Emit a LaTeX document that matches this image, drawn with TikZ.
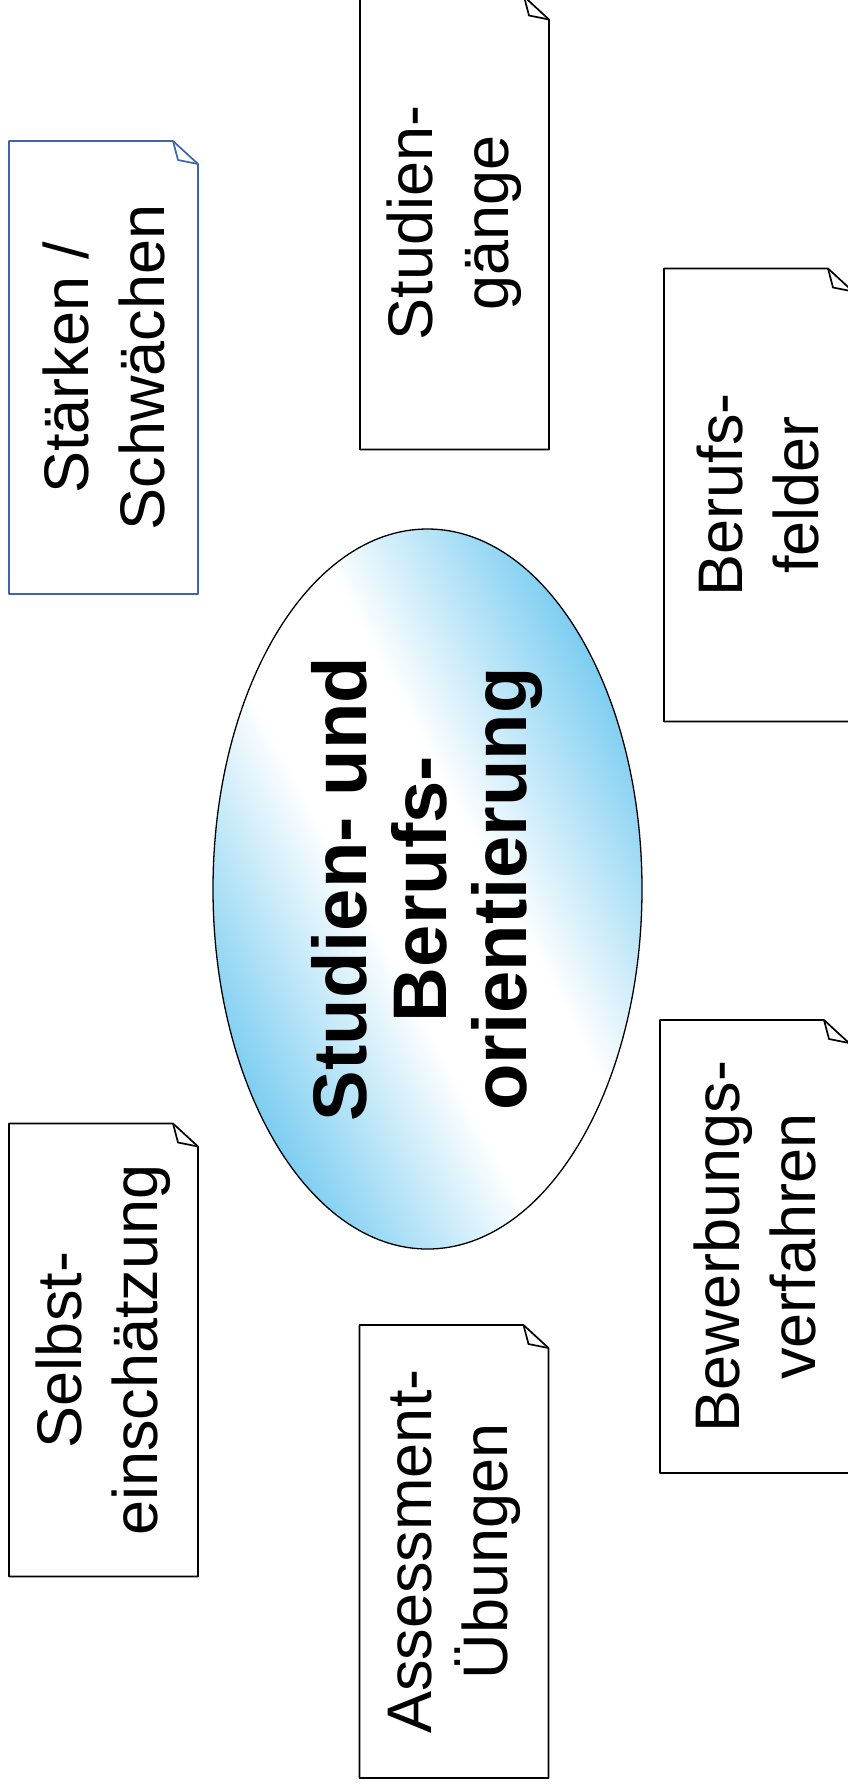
\documentclass[tikz,border=0pt]{standalone}
\usepackage{fontspec}
\setmainfont{Liberation Sans}
\usetikzlibrary{calc,shapes.geometric}

\definecolor{noteblue}{RGB}{62,100,170}
\definecolor{skyblue}{RGB}{110,200,240}

\pgfdeclareverticalshading{hubshade}{100bp}{color(0bp)=(skyblue);
  color(24bp)=(skyblue); color(44bp)=(white); color(56bp)=(white);
  color(76bp)=(skyblue); color(100bp)=(skyblue)}

% folded note round a named node: \notepaper[colour]{name}
\newcommand{\notepaper}[2][black]{%
  \draw[#1, line width=1.7pt, line join=round]
    ($(#2.center)+(-94.5,-226.5)$) -- ($(#2.center)+(69.5,-226.5)$)
    -- ($(#2.center)+(94.5,-203.5)$) -- ($(#2.center)+(94.5,226.5)$)
    -- ($(#2.center)+(-94.5,226.5)$) -- cycle;
  \draw[#1, line width=1.7pt, line join=round]
    ($(#2.center)+(69.5,-226.5)$) -- ($(#2.center)+(74.5,-207.5)$)
    -- ($(#2.center)+(94.5,-203.5)$);
}

\begin{document}
\begin{tikzpicture}[x=1pt, y=-1pt,
    notetext/.style={rotate=90, align=center, inner sep=0pt,
      font=\fontsize{63}{76}\selectfont},
    hub/.style={ellipse, draw, line width=1.3pt, rotate=90, inner sep=0pt,
      minimum width=720pt, minimum height=429pt,
      shading=hubshade, shading angle=-62, align=center,
      font=\fontsize{76}{80}\selectfont\bfseries}]

    \useasboundingbox (0,0) rectangle (848,1792);

    % centre
    \node[hub] (sbo) at (427.5,889) {Studien- und\\Berufs-\\orientierung};

    % notes
    \node[notetext] (staerken) at (103.5,367.5) {Stärken /\\Schwächen};
    \notepaper[noteblue]{staerken}

    \node[notetext] (gaenge) at (454.5,223) {Studien-\\gänge};
    \notepaper{gaenge}

    \node[notetext] (felder) at (758.5,495) {Berufs-\\felder};
    \notepaper{felder}

    \node[notetext] (bewerbung) at (754.5,1246.5) {Bewerbungs-\\verfahren};
    \notepaper{bewerbung}

    \node[notetext] (selbst) at (103.5,1350) {Selbst-\\einschätzung};
    \notepaper{selbst}

    \node[notetext] (assessment) at (454,1551.5) {Assessment-\\Übungen};
    \notepaper{assessment}

\end{tikzpicture}
\end{document}
